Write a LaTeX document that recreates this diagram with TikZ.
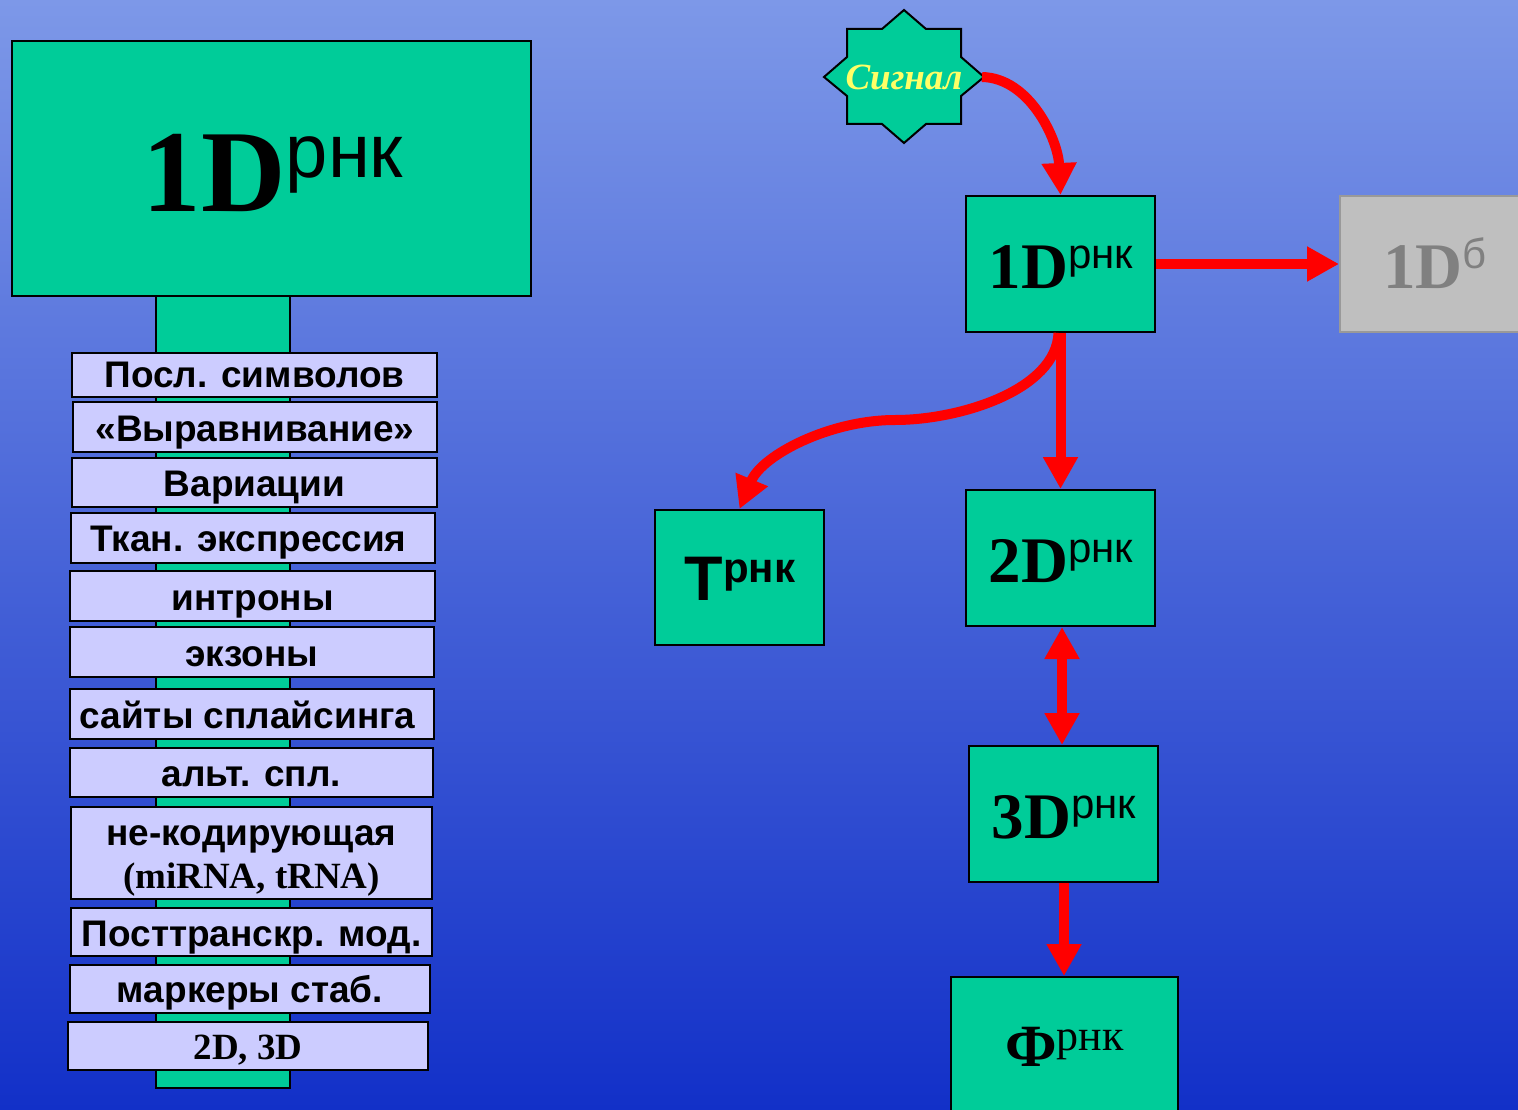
\documentclass[tikz,border=0pt]{standalone}
\usepackage{fontspec}
\setmainfont{Liberation Serif}
\newfontfamily\arialf{Liberation Sans}
\usetikzlibrary{arrows.meta}
\definecolor{teal1}{HTML}{00CC99}
\definecolor{lav}{HTML}{CCCCFF}
\definecolor{bgtop}{HTML}{7D98E8}
\definecolor{bgbot}{HTML}{1230C8}
\definecolor{sigyel}{HTML}{FFFF66}
\newcommand\fsz[1]{\fontsize{#1}{#1}\selectfont}
\tikzset{
  tealbox/.style={draw=black, line width=2pt, fill=teal1, inner sep=0pt},
  lavbox/.style={draw=black, line width=2pt, fill=lav, inner sep=0pt},
  lavtxt/.style={anchor=base, inner sep=0pt, font=\arialf\bfseries\fsz{37}},
  sertxt/.style={anchor=base, inner sep=0pt, font=\bfseries\fsz{37}},
  bigtxt/.style={anchor=base, inner sep=0pt},
  redarrow/.style={draw=red, line width=10pt, -{Triangle[width=33pt,length=32pt]}},
  redboth/.style={draw=red, line width=10pt, {Triangle[width=33pt,length=32pt]}-{Triangle[width=33pt,length=32pt]}},
}
\begin{document}
\begin{tikzpicture}[x=1pt,y=-1pt]
\useasboundingbox (0,0) rectangle (1518,1110);
\shade[top color=bgtop, bottom color=bgbot] (0,0) rectangle (1518,1110);

% left column
\node[tealbox, minimum width=134pt, minimum height=792pt] (stem) at (223,692) {};
\node[tealbox, minimum width=519pt, minimum height=255pt] (big) at (271.5,168.5) {};
\node[bigtxt] (bigt) at (273,212) {\bfseries\fsz{117}1D\raisebox{35pt}{\arialf\mdseries\fsz{76}рнк}};

\node[lavbox, minimum width=365pt, minimum height=44pt] (b1) at (254.5,375) {};
\node[lavtxt] (t1) at (254.5,387) {Посл. символов};
\node[lavbox, minimum width=364pt, minimum height=50pt] (b2) at (255,427) {};
\node[lavtxt] (t2) at (255,441.5) {«Выравнивание»};
\node[lavbox, minimum width=365pt, minimum height=49pt] (b3) at (254.5,482.5) {};
\node[lavtxt] (t3) at (254.5,496.5) {Вариации};
\node[lavbox, minimum width=364pt, minimum height=50pt] (b4) at (253,538) {};
\node[lavtxt] (t4) at (248.5,551.5) {Ткан. экспрессия};
\node[lavbox, minimum width=365pt, minimum height=50pt] (b5) at (252.5,596) {};
\node[lavtxt] (t5) at (252.5,610) {интроны};
\node[lavbox, minimum width=364pt, minimum height=50pt] (b6) at (252,652) {};
\node[lavtxt] (t6) at (252,666) {экзоны};
\node[lavbox, minimum width=364pt, minimum height=50pt] (b7) at (252,714) {};
\node[lavtxt] (t7) at (247.5,728) {сайты сплайсинга};
\node[lavbox, minimum width=363pt, minimum height=49pt] (b8) at (251.5,772.5) {};
\node[lavtxt] (t8) at (251.5,786.5) {альт. спл.};
\node[lavbox, minimum width=361pt, minimum height=92pt] (b9) at (251.5,853) {};
\node[lavtxt] (t9a) at (251.5,845) {не-кодирующая};
\node[sertxt] (t9b) at (251.5,888) {(miRNA, tRNA)};
\node[lavbox, minimum width=361pt, minimum height=48pt] (b10) at (251.5,932) {};
\node[lavtxt] (t10) at (251.5,946.5) {Посттранскр. мод.};
\node[lavbox, minimum width=360pt, minimum height=48pt] (b11) at (250,989) {};
\node[lavtxt] (t11) at (250,1002.5) {маркеры стаб.};
\node[lavbox, minimum width=360pt, minimum height=48pt] (b12) at (248,1046) {};
\node[sertxt] (t12) at (248,1059) {2D, 3D};

% signal star
\draw[draw=black, line width=2pt, fill=teal1]
  (904,10) -- (882,29) -- (847,29) -- (847,57) -- (824,77) -- (847,96) -- (847,124)
  -- (882,124) -- (904,143) -- (926,124) -- (961,124) -- (961,96) -- (984,77)
  -- (961,57) -- (961,29) -- (926,29) -- cycle;
\node[anchor=base, inner sep=0pt, text=sigyel, font=\bfseries\itshape\fsz{37}] (sig) at (904,90) {Сигнал};
\coordinate (sigR) at (982,77);

% right boxes
\node[tealbox, minimum width=189pt, minimum height=136pt] (d1) at (1060.5,264) {};
\node[bigtxt] (d1t) at (1061,288) {\bfseries\fsz{65}1D\raisebox{20pt}{\arialf\mdseries\fsz{42}рнк}};
\node[draw=black!40, line width=2pt, fill=black!25, inner sep=0pt, minimum width=190pt, minimum height=135pt] (gb) at (1435,264) {};
\node[bigtxt, text=black!50] (gbt) at (1435,288) {\bfseries\fsz{65}1D\raisebox{20pt}{\arialf\mdseries\fsz{42}б}};
\node[tealbox, minimum width=169pt, minimum height=135pt] (tp) at (739.5,577.5) {};
\node[bigtxt] (tpt) at (740,600) {\arialf\bfseries\fsz{63}T\raisebox{18pt}{\fsz{42}рнк}};
\node[tealbox, minimum width=189pt, minimum height=136pt] (d2) at (1060.5,558) {};
\node[bigtxt] (d2t) at (1061,582) {\bfseries\fsz{65}2D\raisebox{20pt}{\arialf\mdseries\fsz{42}рнк}};
\node[tealbox, minimum width=189pt, minimum height=136pt] (d3) at (1063.5,814) {};
\node[bigtxt] (d3t) at (1064,838) {\bfseries\fsz{65}3D\raisebox{20pt}{\arialf\mdseries\fsz{42}рнк}};
\node[tealbox, minimum width=227pt, minimum height=143pt] (f) at (1064,1048.5) {};
\node[bigtxt] (ft) at (1064.5,1066) {\bfseries\fsz{60}Ф\raisebox{16pt}{\mdseries\fsz{44}рнк}};

% arrows
\draw[redarrow] (sigR) .. controls (1030,78) and (1058,140) .. (d1.north);
\draw[redarrow] (d1.east) -- (gb.west);
\draw[redarrow] (d1.south) -- (d2.north);
\draw[redarrow] ([xshift=-2pt]d1.south) .. controls (1056,390) and (960,420) .. (895,420)
  .. controls (830,420) and (762,455) .. (tp.north);
\draw[redboth] ([xshift=1.5pt]d2.south) -- ([xshift=-1.5pt]d3.north);
\draw[redarrow] ([xshift=0.5pt]d3.south) -- (f.north);
\end{tikzpicture}
\end{document}
